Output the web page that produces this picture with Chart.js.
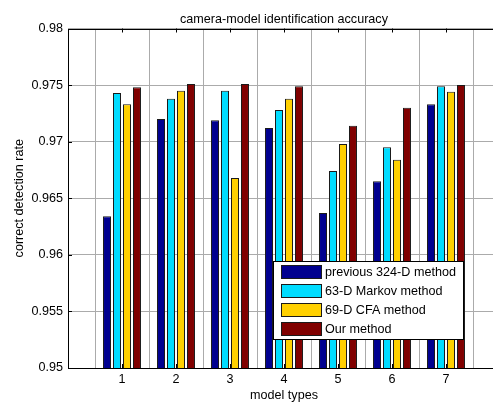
<!DOCTYPE html>
<html>
<head>
<meta charset="utf-8">
<script src="https://cdn.jsdelivr.net/npm/chart.js@4"></script>
<style>
    html, body { margin: 0; padding: 0; background: #fff; overflow: hidden; }
    #wrap { width: 510px; height: 403px; }
</style>
</head>
<body>
<div id="wrap"><canvas id="accChart" width="510" height="403"></canvas></div>
<script>
// model types on the x axis
const modelTypes = [1, 2, 3, 4, 5, 6, 7];

// detection rate per method
const previous324D = [0.9634, 0.9720, 0.9719, 0.9712, 0.9637, 0.9665, 0.9733];
const markov63D    = [0.9743, 0.9738, 0.9745, 0.9728, 0.9674, 0.9695, 0.9749];
const cfa69D       = [0.9733, 0.9745, 0.9668, 0.9738, 0.9698, 0.9684, 0.9744];
const ourMethod    = [0.9748, 0.9751, 0.9751, 0.9749, 0.9714, 0.9730, 0.9750];

const seriesNames = ['previous 324-D method', '63-D Markov method', '69-D CFA method', 'Our method'];
const seriesColors = ['#00008F', '#00DCFF', '#FFD000', '#800000'];

const yTicks = [0.95, 0.955, 0.96, 0.965, 0.97, 0.975, 0.98];

const chartTitle = 'camera-model identification accuracy';

const FONT = 'Arial, "Liberation Sans", sans-serif';
const FSIZE = 12.6;

function toPoints(values) {
    return modelTypes.map((x, i) => ({ x: x, y: values[i] }));
}

const datasets = [previous324D, markov63D, cfa69D, ourMethod].map((values, i) => ({
    label: seriesNames[i],
    data: toPoints(values),
    backgroundColor: seriesColors[i],
    borderColor: '#1a1a1a',
    borderWidth: 1,
    borderSkipped: false,
    categoryPercentage: 0.74,
    barPercentage: 0.8
}));

// legend box inside the plot, title over the plot, black frame with inward ticks
const framePlugin = {
    id: 'frame',
    afterDatasetsDraw(chart) {
        const ctx = chart.ctx;
        const x0 = 273, y0 = 261, w = 190, h = 78;
        ctx.save();
        ctx.fillStyle = '#fff';
        ctx.fillRect(x0, y0, w, h);
        ctx.strokeStyle = '#000';
        ctx.lineWidth = 1;
        ctx.strokeRect(x0 + 0.5, y0 + 0.5, w, h);
        ctx.font = FSIZE + 'px ' + FONT;
        ctx.textBaseline = 'middle';
        chart.data.datasets.forEach((ds, i) => {
            const cy = 272 + i * 19;
            ctx.fillStyle = ds.backgroundColor;
            ctx.fillRect(281, cy - 7, 41, 14);
            ctx.strokeStyle = '#1a1a1a';
            ctx.strokeRect(281.5, cy - 6.5, 40, 13);
            ctx.fillStyle = '#000';
            ctx.fillText(ds.label, 325, cy + 0.5);
        });
        ctx.restore();
    },
    afterDraw(chart) {
        const ctx = chart.ctx;
        const a = chart.chartArea;
        const xs = chart.scales.x, ys = chart.scales.y;
        ctx.save();
        ctx.fillStyle = '#000';
        ctx.font = FSIZE + 'px ' + FONT;
        ctx.textAlign = 'center';
        ctx.textBaseline = 'middle';
        ctx.fillText(chartTitle, (a.left + a.right) / 2, 20);

        ctx.strokeStyle = '#000';
        ctx.lineWidth = 1;
        ctx.beginPath();
        ctx.moveTo(a.right, Math.round(a.top) + 0.5);
        ctx.lineTo(Math.round(a.left) + 0.5, Math.round(a.top) + 0.5);
        ctx.lineTo(Math.round(a.left) + 0.5, Math.round(a.bottom) + 0.5);
        ctx.lineTo(a.right, Math.round(a.bottom) + 0.5);
        modelTypes.forEach(v => {
            const px = Math.round(xs.getPixelForValue(v)) + 0.5;
            ctx.moveTo(px, a.top);
            ctx.lineTo(px, a.top + 4);
            ctx.moveTo(px, a.bottom);
            ctx.lineTo(px, a.bottom - 4);
        });
        yTicks.forEach(v => {
            const py = Math.round(ys.getPixelForValue(v)) + 0.5;
            ctx.moveTo(a.left, py);
            ctx.lineTo(a.left + 4, py);
        });
        ctx.stroke();
        ctx.restore();
    }
};

new Chart(document.getElementById('accChart'), {
    type: 'bar',
    data: { datasets: datasets },
    options: {
        responsive: false,
        animation: false,
        devicePixelRatio: 1,
        layout: { padding: { left: 0, right: 10, top: 28.5, bottom: 0 } },
        plugins: {
            legend: { display: false },
            tooltip: { enabled: false },
            title: { display: false }
        },
        scales: {
            x: {
                type: 'linear',
                min: 0,
                max: 8,
                offset: false,
                afterBuildTicks: scale => { scale.ticks = modelTypes.map(v => ({ value: v })); },
                afterFit: scale => { scale.height = 35; },
                ticks: {
                    color: '#000',
                    font: { family: FONT, size: FSIZE },
                    padding: 4,
                    callback: v => String(v)
                },
                grid: { color: '#ababab', drawTicks: false },
                border: { display: false },
                title: {
                    display: true,
                    text: 'model types',
                    color: '#000',
                    font: { family: FONT, size: FSIZE },
                    padding: { top: 0, bottom: 0 }
                }
            },
            y: {
                min: 0.95,
                max: 0.98,
                afterBuildTicks: scale => { scale.ticks = yTicks.map(v => ({ value: v })); },
                afterFit: scale => { scale.width = 68; },
                ticks: {
                    color: '#000',
                    font: { family: FONT, size: FSIZE },
                    padding: 5,
                    callback: v => String(parseFloat(v.toFixed(3)))
                },
                grid: { color: '#ababab', drawTicks: false },
                border: { display: false },
                title: {
                    display: true,
                    text: 'correct detection rate',
                    color: '#000',
                    font: { family: FONT, size: FSIZE },
                    padding: { top: 12, bottom: 0 }
                }
            }
        }
    },
    plugins: [framePlugin]
});
</script>
</body>
</html>
